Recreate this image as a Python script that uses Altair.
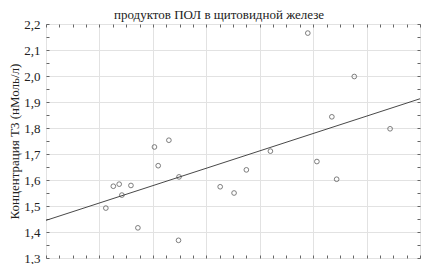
import altair as alt
import pandas as pd

# Values (x in grid units, y in nMol/l)
x_vals = [4.90, 5.77, 5.35, 6.44, 5.07, 5.44, 4.20, 3.75, 3.26, 3.52, 2.30,
          2.03, 2.10, 2.49, 1.26, 1.37, 1.59, 1.42, 1.12, 1.72, 2.48]
y_vals = [2.165, 1.998, 1.843, 1.797, 1.671, 1.603, 1.711, 1.639, 1.574, 1.550,
          1.753, 1.727, 1.655, 1.612, 1.576, 1.584, 1.579, 1.542, 1.492, 1.416, 1.368]
y_ticks = [1.3, 1.4, 1.5, 1.6, 1.7, 1.8, 1.9, 2.0, 2.1, 2.2]
x_grid = [0, 1, 2, 3, 4, 5, 6, 7]
x_minor = [i * 0.25 for i in range(29)]
y_minor = [round(1.3 + i * 0.05, 2) for i in range(19)]
title_text = "продуктов ПОЛ в щитовидной железе"
y_title = "Концентрация Т3 (нМоль/л)"

df = pd.DataFrame({"x": x_vals, "y": y_vals})
FONT = "Liberation Serif"

xscale = alt.Scale(domain=[0, 7], nice=False, zero=False)
yscale = alt.Scale(domain=[1.3, 2.2], nice=False, zero=False)

main_x = alt.Axis(orient="bottom", values=x_grid, grid=True, gridColor="#e2e2e2",
                  labels=False, ticks=False, domain=False, title=None)
main_y = alt.Axis(orient="left", values=y_ticks, grid=True, gridColor="#e2e2e2",
                  ticks=False, domain=False, labelFont=FONT, labelFontSize=13,
                  labelColor="#222", labelPadding=6,
                  labelExpr="replace(format(datum.value, '.1f'), '.', ',')",
                  title=y_title, titleFont=FONT, titleFontSize=13,
                  titleFontWeight="normal", titleColor="#222",
                  titleX=-25, titleBaseline="bottom")

points = alt.Chart(df).mark_point(
    shape="circle", filled=False, size=22, stroke="#333", strokeWidth=0.9
).encode(
    x=alt.X("x:Q", scale=xscale, axis=main_x),
    y=alt.Y("y:Q", scale=yscale, axis=main_y),
)

def minor_x(orient):
    return alt.Axis(orient=orient, values=x_minor, grid=False, labels=False,
                    ticks=True, tickSize=3, tickColor="#666", offset=-3,
                    domain=False, title=None)

def minor_y(orient):
    return alt.Axis(orient=orient, values=y_minor, grid=False, labels=False,
                    ticks=True, tickSize=3, tickColor="#666", offset=-3,
                    domain=False, title=None)

line = alt.Chart(df).transform_regression(
    "x", "y", extent=[0, 7]
).mark_line(color="#333", strokeWidth=0.9).encode(
    x=alt.X("x:Q", scale=xscale, axis=minor_x("bottom")),
    y=alt.Y("y:Q", scale=yscale, axis=minor_y("left")),
)

ghost = alt.Chart(df).mark_point(opacity=0).encode(
    x=alt.X("x:Q", scale=xscale, axis=minor_x("top")),
    y=alt.Y("y:Q", scale=yscale, axis=minor_y("right")),
)

title_mark = alt.Chart(pd.DataFrame({"t": [title_text]})).mark_text(
    font=FONT, fontSize=13, color="#222", align="center", baseline="alphabetic"
).encode(
    x=alt.value(173), y=alt.value(-5), text="t:N"
)

chart = alt.layer(points, line, ghost, title_mark).resolve_axis(
    x="independent", y="independent"
).properties(
    width=374,
    height=234,
    padding={"left": 38, "top": 16, "right": 1, "bottom": 6},
    autosize=alt.AutoSizeParams(type="none"),
).configure_view(stroke="#333", strokeWidth=1).configure(background="white")

chart.save("out.html", embed_options={"renderer": "svg", "actions": False})
